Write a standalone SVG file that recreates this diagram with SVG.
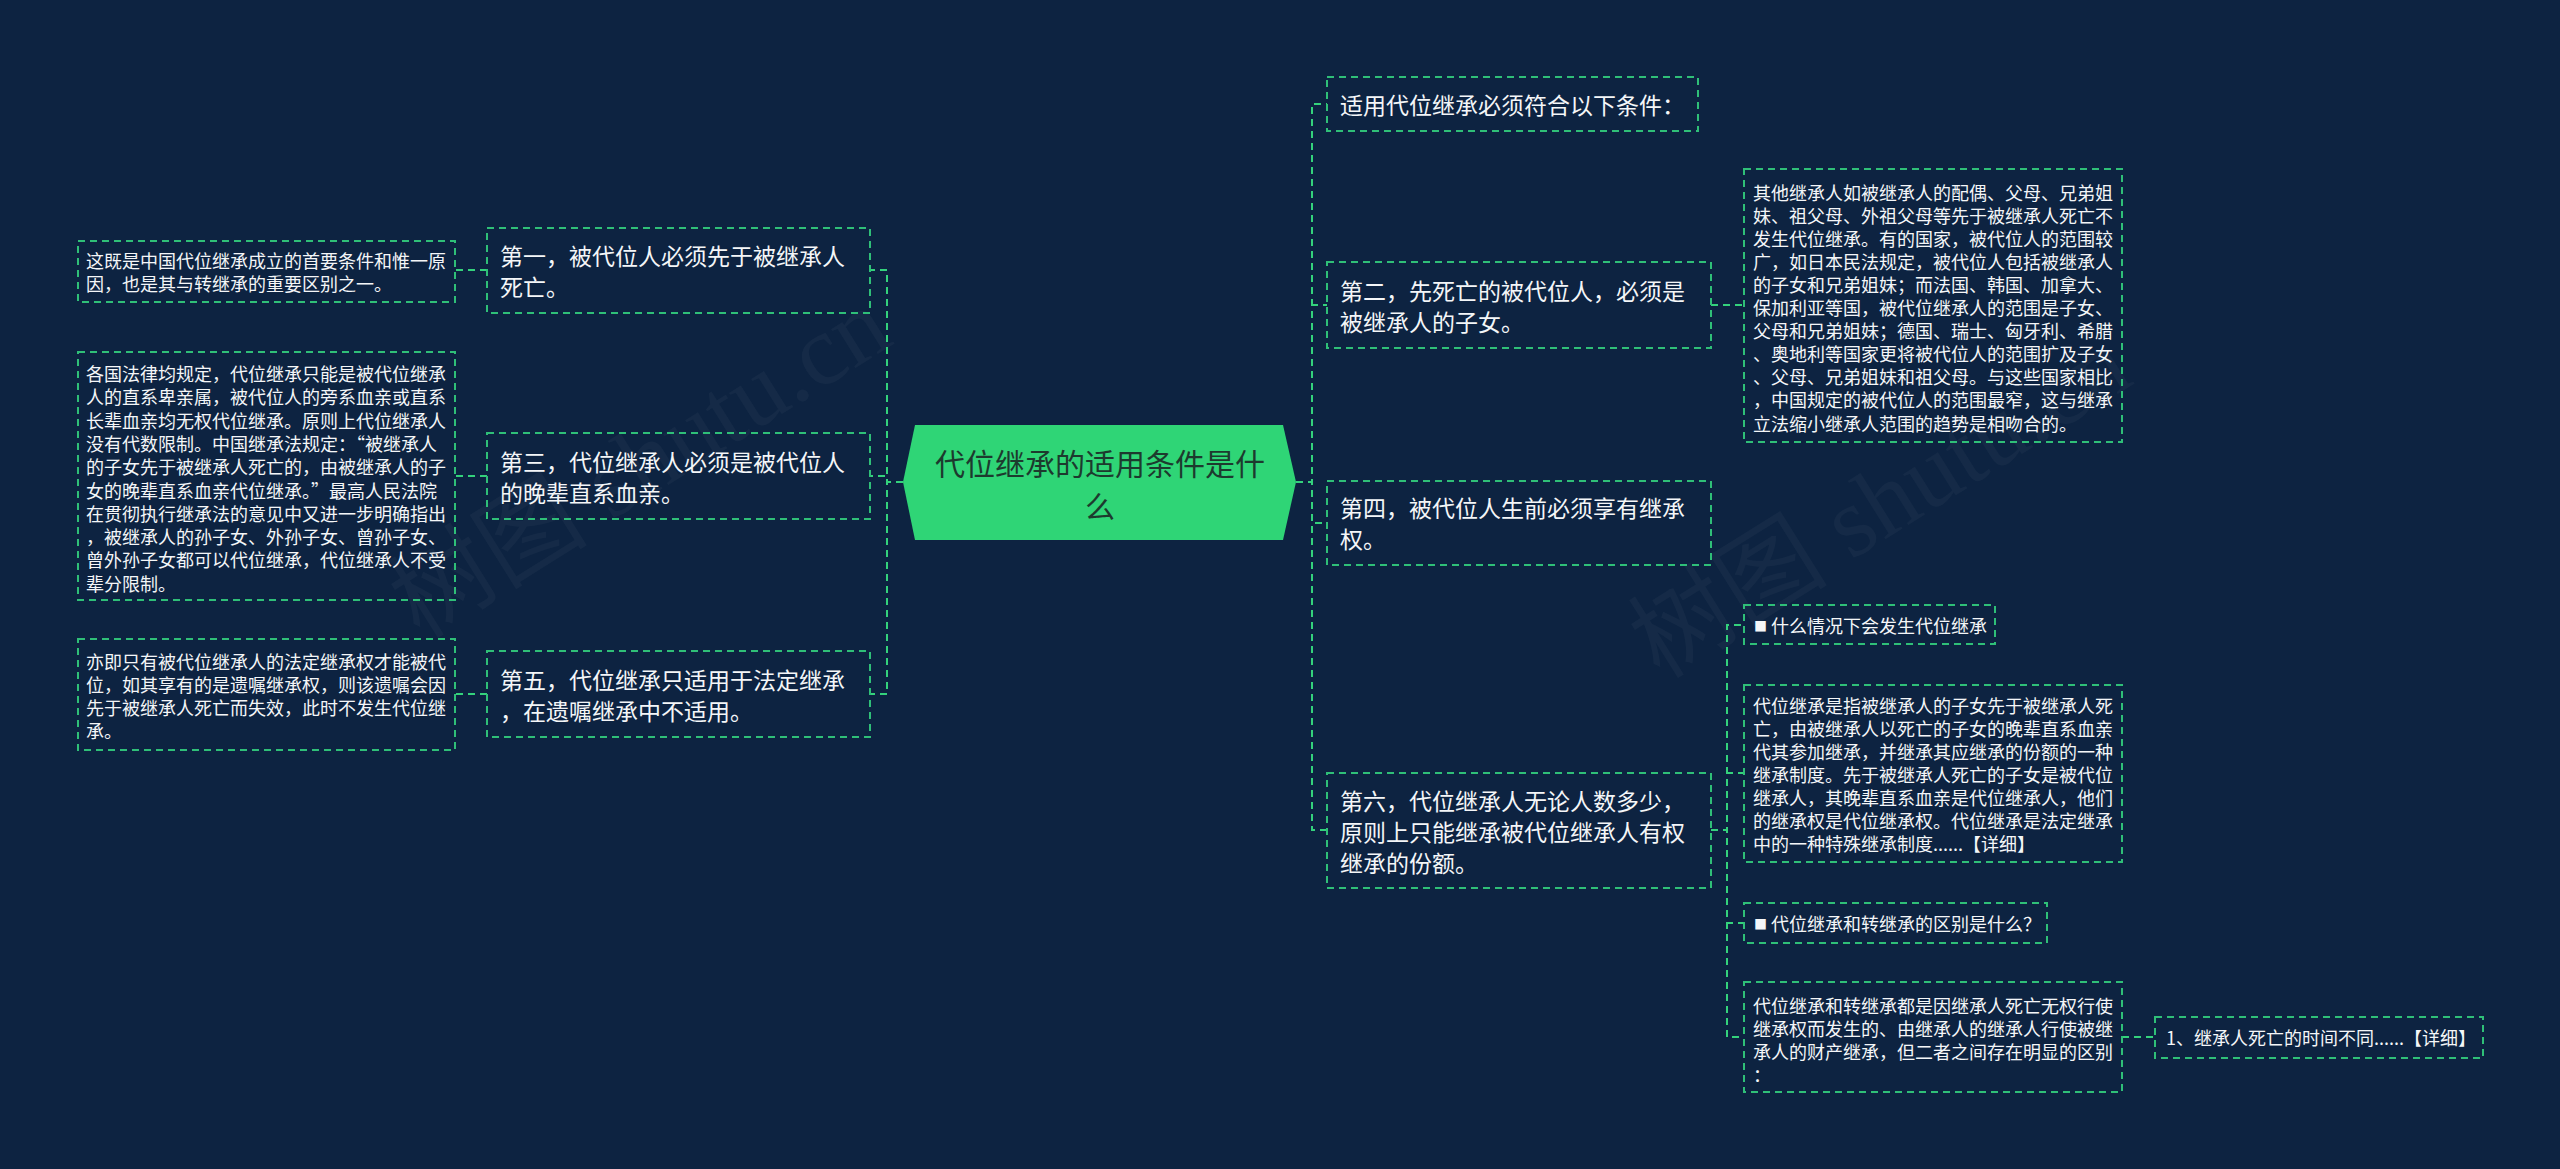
<svg xmlns="http://www.w3.org/2000/svg" width="2560" height="1169" viewBox="0 0 2560 1169">
<style>
.bg{fill:#0d2341}
.box{fill:none;stroke:#2fbf78;stroke-width:2;stroke-dasharray:7 5}
.con{fill:none;stroke:#34d27c;stroke-width:2;stroke-dasharray:7 5}
.t{font-family:"Noto Sans CJK SC","Noto Sans",sans-serif;fill:#f4f6f8;dominant-baseline:central}
.big{font-size:23px}
.sm{font-size:18px}
.ct{font-family:"Noto Sans CJK SC","Noto Sans",sans-serif;fill:#1d3a2e;font-size:30px;text-anchor:middle;dominant-baseline:central}
.wm{font-family:"Liberation Serif","Noto Sans CJK SC",serif;fill:#ffffff;fill-opacity:0.035;font-size:100px}
</style>
<rect class="bg" x="0" y="0" width="2560" height="1169"/>
<g id="watermarks">
<text class="wm" transform="translate(420,640) rotate(-32)">树图 shutu.cn</text>
<text class="wm" transform="translate(1660,680) rotate(-32)">树图 shutu.cn</text>
</g>
<g id="connectors">
<path class="con" d="M903 482 H887 V270 H870"/>
<path class="con" d="M903 482 H887 V476 H870"/>
<path class="con" d="M903 482 H887 V694 H870"/>
<path class="con" d="M487 270 H455"/>
<path class="con" d="M487 476 H455"/>
<path class="con" d="M487 694 H455"/>
<path class="con" d="M1296 482 H1312 V104 H1327"/>
<path class="con" d="M1296 482 H1312 V305 H1327"/>
<path class="con" d="M1296 482 H1312 V523 H1327"/>
<path class="con" d="M1296 482 H1312 V830 H1327"/>
<path class="con" d="M1711 305 H1744"/>
<path class="con" d="M1711 830 H1727 V625 H1744"/>
<path class="con" d="M1711 830 H1727 V773 H1744"/>
<path class="con" d="M1711 830 H1727 V923 H1744"/>
<path class="con" d="M1711 830 H1727 V1037 H1744"/>
<path class="con" d="M2122 1037 H2155"/>
</g>
<g id="center">
<polygon points="915,425 1283,425 1296,482 1283,540 915,540 903,482" fill="#2fd576"/>
<text class="ct" x="1100" y="462">代位继承的适用条件是什</text>
<text class="ct" x="1100" y="505">么</text>
</g>
<g id="L1">
<rect class="box" x="487" y="228" width="383" height="85"/>
<text class="t big" x="500" y="255">第一，被代位人必须先于被继承人</text>
<text class="t big" x="500" y="286">死亡。</text>
</g>
<g id="L1c">
<rect class="box" x="78" y="241" width="377" height="61"/>
<text class="t sm" x="86" y="260">这既是中国代位继承成立的首要条件和惟一原</text>
<text class="t sm" x="86" y="283">因，也是其与转继承的重要区别之一。</text>
</g>
<g id="L3">
<rect class="box" x="487" y="433" width="383" height="86"/>
<text class="t big" x="500" y="461">第三，代位继承人必须是被代位人</text>
<text class="t big" x="500" y="492">的晚辈直系血亲。</text>
</g>
<g id="L3c">
<rect class="box" x="78" y="352" width="377" height="248"/>
<text class="t sm" x="86" y="373">各国法律均规定，代位继承只能是被代位继承</text>
<text class="t sm" x="86" y="396.3">人的直系卑亲属，被代位人的旁系血亲或直系</text>
<text class="t sm" x="86" y="419.6">长辈血亲均无权代位继承。原则上代位继承人</text>
<text class="t sm" x="86" y="442.9">没有代数限制。中国继承法规定：“被继承人</text>
<text class="t sm" x="86" y="466.2">的子女先于被继承人死亡的，由被继承人的子</text>
<text class="t sm" x="86" y="489.5">女的晚辈直系血亲代位继承。”最高人民法院</text>
<text class="t sm" x="86" y="512.8">在贯彻执行继承法的意见中又进一步明确指出</text>
<text class="t sm" x="86" y="536.1">，被继承人的孙子女、外孙子女、曾孙子女、</text>
<text class="t sm" x="86" y="559.4">曾外孙子女都可以代位继承，代位继承人不受</text>
<text class="t sm" x="86" y="582.7">辈分限制。</text>
</g>
<g id="L5">
<rect class="box" x="487" y="651" width="383" height="86"/>
<text class="t big" x="500" y="679">第五，代位继承只适用于法定继承</text>
<text class="t big" x="500" y="710">，在遗嘱继承中不适用。</text>
</g>
<g id="L5c">
<rect class="box" x="78" y="639" width="377" height="111"/>
<text class="t sm" x="86" y="661">亦即只有被代位继承人的法定继承权才能被代</text>
<text class="t sm" x="86" y="684">位，如其享有的是遗嘱继承权，则该遗嘱会因</text>
<text class="t sm" x="86" y="707">先于被继承人死亡而失效，此时不发生代位继</text>
<text class="t sm" x="86" y="730">承。</text>
</g>
<g id="R0">
<rect class="box" x="1327" y="77" width="371" height="54"/>
<text class="t big" x="1340" y="104">适用代位继承必须符合以下条件：</text>
</g>
<g id="R2">
<rect class="box" x="1327" y="262" width="384" height="86"/>
<text class="t big" x="1340" y="290">第二，先死亡的被代位人，必须是</text>
<text class="t big" x="1340" y="321">被继承人的子女。</text>
</g>
<g id="R2c">
<rect class="box" x="1744" y="169" width="378" height="273"/>
<text class="t sm" x="1753" y="191.5">其他继承人如被继承人的配偶、父母、兄弟姐</text>
<text class="t sm" x="1753" y="214.6">妹、祖父母、外祖父母等先于被继承人死亡不</text>
<text class="t sm" x="1753" y="237.7">发生代位继承。有的国家，被代位人的范围较</text>
<text class="t sm" x="1753" y="260.8">广，如日本民法规定，被代位人包括被继承人</text>
<text class="t sm" x="1753" y="283.9">的子女和兄弟姐妹；而法国、韩国、加拿大、</text>
<text class="t sm" x="1753" y="307">保加利亚等国，被代位继承人的范围是子女、</text>
<text class="t sm" x="1753" y="330.1">父母和兄弟姐妹；德国、瑞士、匈牙利、希腊</text>
<text class="t sm" x="1753" y="353.2">、奥地利等国家更将被代位人的范围扩及子女</text>
<text class="t sm" x="1753" y="376.3">、父母、兄弟姐妹和祖父母。与这些国家相比</text>
<text class="t sm" x="1753" y="399.4">，中国规定的被代位人的范围最窄，这与继承</text>
<text class="t sm" x="1753" y="422.5">立法缩小继承人范围的趋势是相吻合的。</text>
</g>
<g id="R4">
<rect class="box" x="1327" y="481" width="384" height="84"/>
<text class="t big" x="1340" y="507">第四，被代位人生前必须享有继承</text>
<text class="t big" x="1340" y="538">权。</text>
</g>
<g id="R6">
<rect class="box" x="1327" y="773" width="384" height="115"/>
<text class="t big" x="1340" y="800">第六，代位继承人无论人数多少，</text>
<text class="t big" x="1340" y="831">原则上只能继承被代位继承人有权</text>
<text class="t big" x="1340" y="862">继承的份额。</text>
</g>
<g id="R6c1">
<rect class="box" x="1744" y="605" width="251" height="39"/>
<text class="t sm" x="1754" y="625"><tspan font-size="13px">■</tspan> 什么情况下会发生代位继承</text>
</g>
<g id="R6c2">
<rect class="box" x="1744" y="685" width="378" height="177"/>
<text class="t sm" x="1753" y="705">代位继承是指被继承人的子女先于被继承人死</text>
<text class="t sm" x="1753" y="728">亡，由被继承人以死亡的子女的晚辈直系血亲</text>
<text class="t sm" x="1753" y="751">代其参加继承，并继承其应继承的份额的一种</text>
<text class="t sm" x="1753" y="774">继承制度。先于被继承人死亡的子女是被代位</text>
<text class="t sm" x="1753" y="797">继承人，其晚辈直系血亲是代位继承人，他们</text>
<text class="t sm" x="1753" y="820">的继承权是代位继承权。代位继承是法定继承</text>
<text class="t sm" x="1753" y="843">中的一种特殊继承制度......【详细】</text>
</g>
<g id="R6c3">
<rect class="box" x="1744" y="903" width="303" height="40"/>
<text class="t sm" x="1754" y="923"><tspan font-size="13px">■</tspan> 代位继承和转继承的区别是什么？</text>
</g>
<g id="R6c4">
<rect class="box" x="1744" y="982" width="378" height="110"/>
<text class="t sm" x="1753" y="1005">代位继承和转继承都是因继承人死亡无权行使</text>
<text class="t sm" x="1753" y="1028">继承权而发生的、由继承人的继承人行使被继</text>
<text class="t sm" x="1753" y="1051">承人的财产继承，但二者之间存在明显的区别</text>
<text class="t sm" x="1753" y="1074">：</text>
</g>
<g id="R6c4c">
<rect class="box" x="2155" y="1017" width="328" height="41"/>
<text class="t sm" x="2166" y="1037">1、继承人死亡的时间不同......【详细】</text>
</g>
</svg>
